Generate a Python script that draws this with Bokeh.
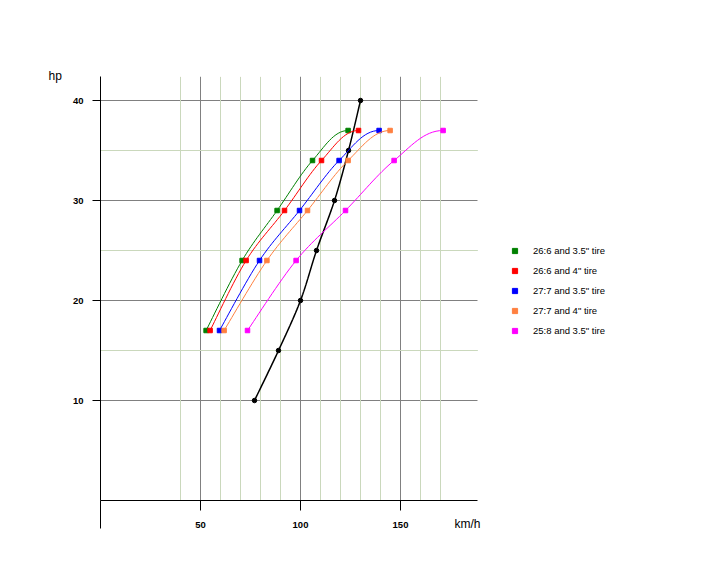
from bokeh.plotting import figure
from bokeh.models import (Range1d, FixedTicker, Grid, Legend, LegendItem, Title)
from bokeh.embed import file_html
from bokeh.resources import INLINE

# ---------------- data ----------------
# engine power curve (black)
engine_speed = [77, 89, 100, 108, 117, 124, 130]
engine_hp = [10, 15, 20, 25, 30, 35, 40]

# gearing / tire combinations: hp needed at speed
gear_hp = [17, 24, 29, 34, 37]
speed_266_35 = [52.8, 70.8, 88.3, 106.0, 123.8]
speed_266_4 = [54.8, 72.8, 92.0, 110.5, 129.0]
speed_277_35 = [59.5, 79.5, 99.5, 119.3, 139.3]
speed_277_4 = [61.8, 83.2, 103.5, 123.8, 144.8]
speed_258_35 = [73.5, 97.8, 122.5, 146.8, 171.3]

series_names = ['26:6 and 3.5" tire', '26:6 and 4" tire', '27:7 and 3.5" tire',
                '27:7 and 4" tire', '25:8 and 3.5" tire']
series_speeds = [speed_266_35, speed_266_4, speed_277_35, speed_277_4, speed_258_35]
series_colors = ["#008000", "#FF0000", "#0000FF", "#FF8040", "#FF00FF"]

x_major = [50, 100, 150]
x_minor = [40, 60, 70, 80, 90, 110, 120, 130, 140, 160, 170]
y_major = [10, 20, 30, 40]
y_minor = [15, 25, 35]
x_axis_end = 188.5   # km/h where the plotted axis ends


def smooth(xs, ys, flat_end=False, steps=16):
    """Smoothed (Bezier) line through the given points, for drawing only."""
    n = len(xs)
    ox, oy = [xs[0]], [ys[0]]
    for i in range(n - 1):
        x0, y0 = xs[max(i - 1, 0)], ys[max(i - 1, 0)]
        x1, y1 = xs[i], ys[i]
        x2, y2 = xs[i + 1], ys[i + 1]
        x3, y3 = xs[min(i + 2, n - 1)], ys[min(i + 2, n - 1)]
        c1x, c1y = x1 + (x2 - x0) / 6, y1 + (y2 - y0) / 6
        if flat_end and i == n - 2:
            c2x, c2y = x2 - (x2 - x1) * 0.4, y2
        else:
            c2x, c2y = x2 - (x3 - x1) / 6, y2 - (y3 - y1) / 6
        for k in range(1, steps + 1):
            t = k / steps
            a, b, c, d = (1 - t) ** 3, 3 * t * (1 - t) ** 2, 3 * t * t * (1 - t), t ** 3
            ox.append(a * x1 + b * c1x + c * c2x + d * x2)
            oy.append(a * y1 + b * c1y + c * c2y + d * y2)
    return ox, oy


W, H = 700, 560
FL, FT, FR, FB = 100, 76, 640, 500   # frame edges in pixels (2 px per km/h)
p = figure(width=W, height=H, output_backend="svg", toolbar_location=None,
           x_range=Range1d(0, (FR - FL) / 2), y_range=Range1d(0, 42.4),
           min_border_left=FL, min_border_right=W - FR,
           min_border_top=FT, min_border_bottom=H - FB)
p.outline_line_color = None
p.background_fill_color = "white"
p.border_fill_color = "white"

# "hp" as the title, at the top-left of the y axis
p.title.text = "hp"
p.title.align = "left"
p.title.offset = -52
p.title.standoff = -12
p.title.text_font = "Liberation Sans"
p.title.text_font_size = "12px"
p.title.text_font_style = "normal"
p.title.text_color = "black"

# grids
for g in (p.xgrid, p.ygrid):
    g.grid_line_color = "#808080"
    g.grid_line_width = 1
p.xgrid.ticker = FixedTicker(ticks=x_major)
p.ygrid.ticker = FixedTicker(ticks=y_major)
p.ygrid.cross_bounds = (0, x_axis_end)
for dim, ticks in ((0, x_minor), (1, y_minor)):
    for col, dash in (("#f0e4d4", "solid"), ("#a4cca4", "1 1")):
        g = Grid(dimension=dim, ticker=FixedTicker(ticks=ticks),
                 grid_line_color=col, grid_line_width=1, grid_line_dash=dash)
        if dim == 1:
            g.cross_bounds = (0, x_axis_end)
        p.add_layout(g)

# axes
xa = p.xaxis[0]
xa.bounds = (0, x_axis_end)
xa.ticker = FixedTicker(ticks=x_major, minor_ticks=[0])
xa.major_tick_out = 10
xa.major_tick_in = 0
xa.minor_tick_out = 28
xa.minor_tick_in = 0
xa.minor_tick_line_color = "black"
xa.major_label_standoff = -7

ya = p.yaxis[0]
ya.ticker = FixedTicker(ticks=y_major)
ya.major_tick_out = 8
ya.major_tick_in = 0
ya.minor_tick_line_color = None
ya.major_label_standoff = 9

for ax in (xa, ya):
    ax.axis_line_color = "black"
    ax.axis_line_width = 1
    ax.major_tick_line_color = "black"
    ax.major_label_text_font = "Liberation Sans"
    ax.major_label_text_font_style = "bold"
    ax.major_label_text_font_size = "9.5px"
    ax.major_label_text_color = "black"

# "km/h" under the right end of the x axis
p.add_layout(Title(text="km/h", align="right", offset=160, standoff=-28,
                   vertical_align="top",
                   text_font="Liberation Sans", text_font_size="12px",
                   text_font_style="normal", text_color="black"), "below")

# curves
p.line(*smooth(engine_speed, engine_hp), line_color="black", line_width=1.5)
p.scatter(engine_speed, engine_hp, marker="circle", size=4.5, color="black")

legend_items = []
for name, spd, col in zip(series_names, series_speeds, series_colors):
    sx, sy = smooth(spd, gear_hp, flat_end=True)
    p.line(sx, sy, line_color=col, line_width=1)
    pts = p.scatter(spd, gear_hp, marker="square", size=4.5, color=col)
    legend_items.append(LegendItem(label=name, renderers=[pts]))

legend = Legend(items=legend_items, location=(408, 160),
                glyph_width=13, glyph_height=13, label_standoff=12,
                label_height=20, spacing=0, padding=0, margin=0,
                border_line_color=None, background_fill_alpha=0,
                label_text_font="Liberation Sans", label_text_font_size="9.5px",
                label_text_color="black")
p.add_layout(legend)

open("out.html", "w").write(file_html(p, INLINE))
